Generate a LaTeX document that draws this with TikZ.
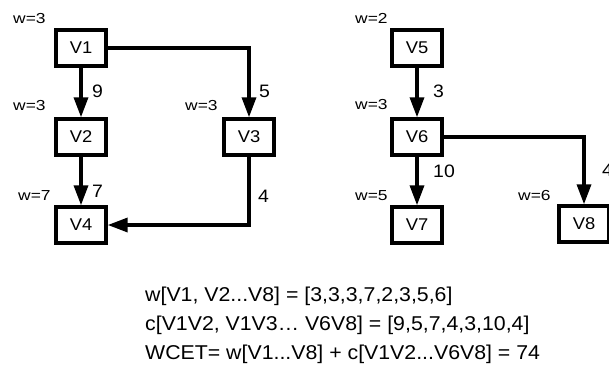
\documentclass[tikz,border=0pt]{standalone}
\usepackage{fontspec}
\setmainfont{Liberation Sans}
\newfontfamily\boxfont[FakeStretch=1.08]{Liberation Sans}
\newfontfamily\weightfont[FakeStretch=1.2]{Liberation Sans}
\newfontfamily\costfont[FakeStretch=1.08]{Liberation Sans}
\newfontfamily\formulafont[FakeStretch=1.065]{Liberation Sans}
\usetikzlibrary{arrows.meta}
\begin{document}
\begin{tikzpicture}[x=1pt,y=-1pt,
  task/.style={draw, line width=3.4pt, minimum width=50pt, minimum height=36pt,
    inner sep=0pt, font=\boxfont\fontsize{17}{17}\selectfont},
  flow/.style={line width=3.4pt, -{Triangle[length=20pt,width=14pt]}},
  wlab/.style={font=\weightfont\fontsize{14.5}{14.5}\selectfont, anchor=base west, inner sep=0pt},
  clab/.style={font=\costfont\fontsize{18}{18}\selectfont, anchor=base west, inner sep=0pt},
  formula/.style={font=\formulafont\fontsize{20}{20}\selectfont, anchor=base west, inner sep=0pt}]
\useasboundingbox (0,0) rectangle (609,381);

% tasks
\node[task] (v1) at (81,48) {V1};
\node[task] (v2) at (81,137) {V2};
\node[task] (v3) at (249,137) {V3};
\node[task] (v4) at (81,225) {V4};
\node[task] (v5) at (417,48) {V5};
\node[task] (v6) at (417,137) {V6};
\node[task] (v7) at (417,225) {V7};
\node[task] (v8) at (584,224) {V8};

% dependencies
\draw[flow] (v1) -- (v2);
\draw[flow] (v1.east) -| (v3.north);
\draw[flow] (v2) -- (v4);
\draw[flow] (v3.south) |- (v4.east);
\draw[flow] (v5) -- (v6);
\draw[flow] (v6) -- (v7);
\draw[flow] (v6.east) -| (v8.north);

% task weights
\node[wlab] (w1) at (13,23) {w=3};
\node[wlab] (w2) at (13,110) {w=3};
\node[wlab] (w3) at (185,110) {w=3};
\node[wlab] (w4) at (18,200) {w=7};
\node[wlab] (w5) at (355,23) {w=2};
\node[wlab] (w6) at (355,109) {w=3};
\node[wlab] (w7) at (355,200) {w=5};
\node[wlab] (w8) at (518,200) {w=6};

% communication costs
\node[clab] (c12) at (92,97) {9};
\node[clab] (c13) at (259,97) {5};
\node[clab] (c24) at (92,197) {7};
\node[clab] (c34) at (258,202) {4};
\node[clab] (c56) at (433,97) {3};
\node[clab] (c67) at (433,177) {10};
\node[clab] (c68) at (602,176) {4};

% totals
\node[formula] (fw) at (145,301) {w[V1, V2...V8] = [3,3,3,7,2,3,5,6]};
\node[formula] (fc) at (145,330) {c[V1V2, V1V3… V6V8] = [9,5,7,4,3,10,4]};
\node[formula] (ft) at (145,359) {WCET= w[V1...V8] + c[V1V2...V6V8] = 74};
\end{tikzpicture}
\end{document}
